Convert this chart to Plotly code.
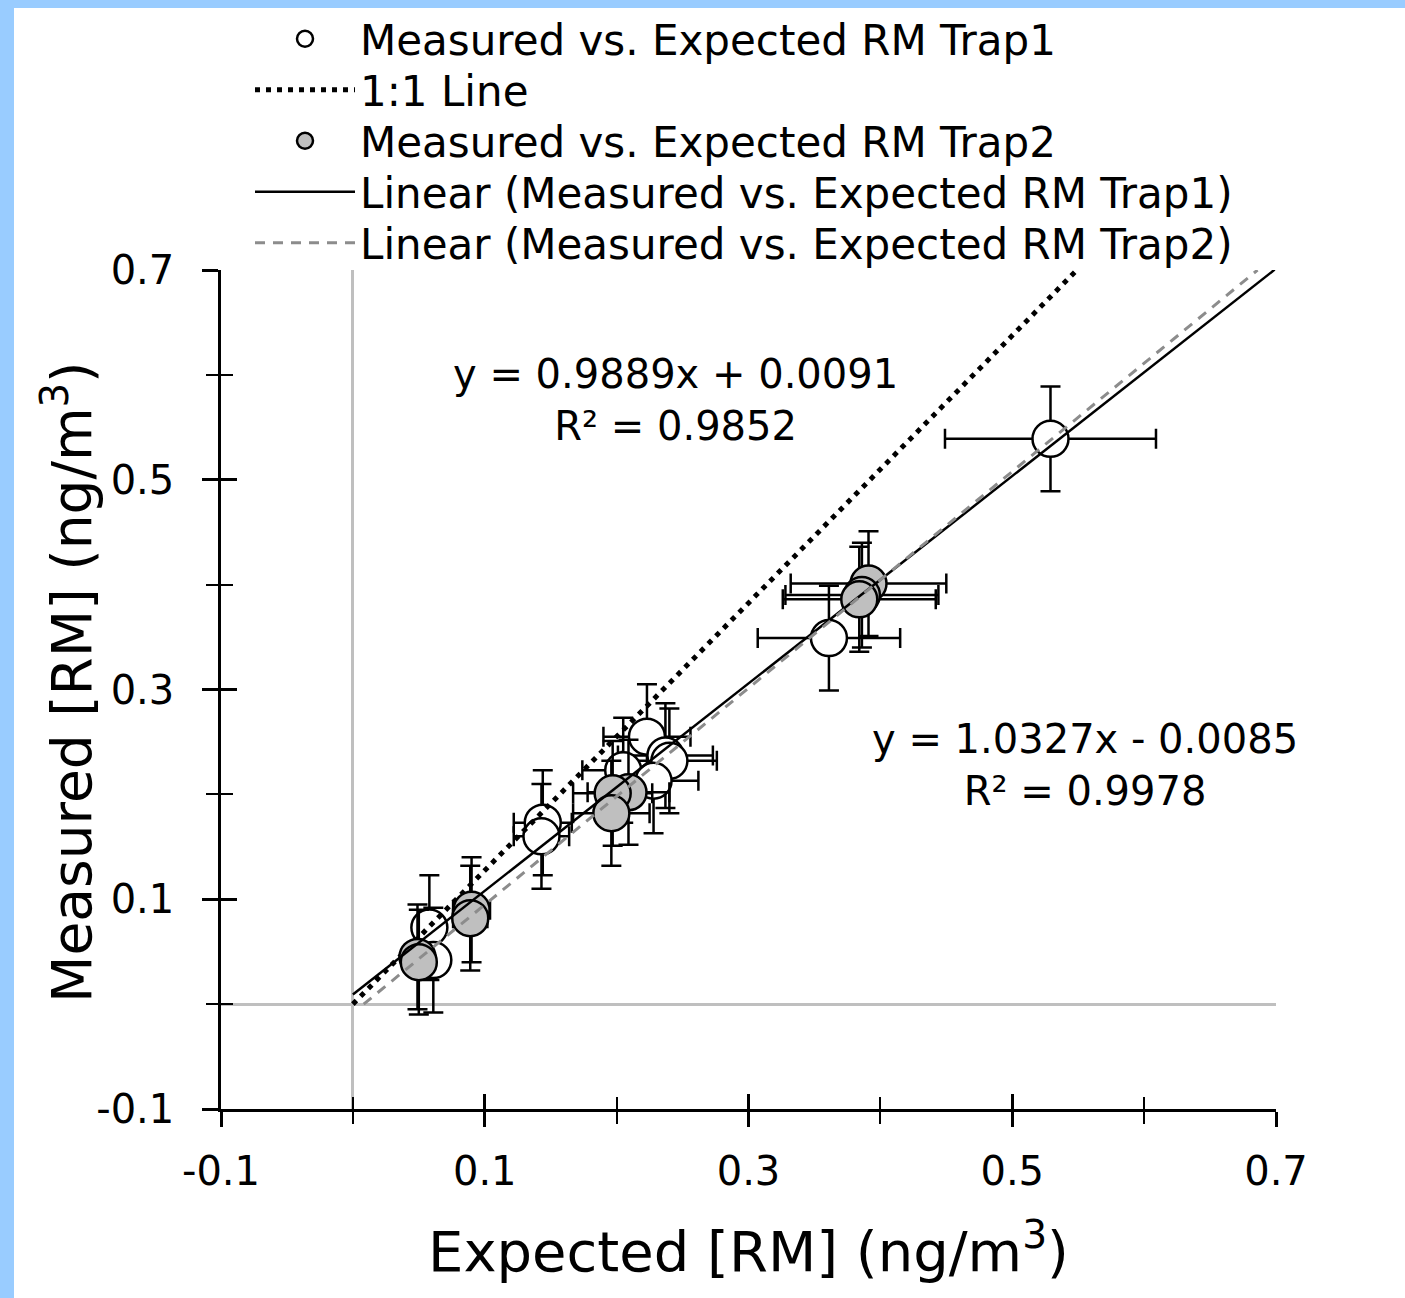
import plotly.graph_objects as go

# ---------------- data ----------------
trap1_x = [0.529, 0.361, 0.223, 0.237, 0.240, 0.205, 0.228, 0.144, 0.143, 0.058, 0.061]
trap1_y = [0.539, 0.349, 0.255, 0.237, 0.232, 0.223, 0.213, 0.173, 0.160, 0.073, 0.042]
trap1_xerr = [0.080, 0.054, 0.033, 0.036, 0.036, 0.031, 0.034, 0.022, 0.021, 0.009, 0.009]
trap1_yerr = [0.050, 0.050, 0.050, 0.050, 0.050, 0.050, 0.050, 0.050, 0.050, 0.050, 0.050]

trap2_x = [0.391, 0.386, 0.384, 0.209, 0.197, 0.196, 0.090, 0.089, 0.049, 0.050]
trap2_y = [0.401, 0.390, 0.386, 0.202, 0.201, 0.182, 0.090, 0.082, 0.045, 0.040]
trap2_xerr = [0.059, 0.058, 0.058, 0.031, 0.030, 0.029, 0.014, 0.013, 0.007, 0.008]
trap2_yerr = [0.050, 0.050, 0.050, 0.050, 0.050, 0.050, 0.050, 0.050, 0.050, 0.050]

# reference line as drawn in the picture
ref_line_x = [0.0, 0.549]
ref_line_y = [0.0, 0.700]

# fitted trend lines (from the equations printed on the chart)
fit1_slope, fit1_icpt = 0.9889, 0.0091
fit2_slope, fit2_icpt = 1.0327, -0.0085
fit1_x = [0.0, 0.699]
fit2_x = [0.0082, 0.686]
fit1_y = [fit1_slope * v + fit1_icpt for v in fit1_x]
fit2_y = [fit2_slope * v + fit2_icpt for v in fit2_x]

eq1_text = "y = 0.9889x + 0.0091<br>R² = 0.9852"
eq2_text = "y = 1.0327x - 0.0085<br>R² = 0.9978"

tick_vals = [-0.1, 0.1, 0.3, 0.5, 0.7]
tick_text = ["-0.1", "0.1", "0.3", "0.5", "0.7"]

series_names = [
    "Measured vs. Expected RM Trap1",
    "1:1 Line",
    "Measured vs. Expected RM Trap2",
    "Linear (Measured vs. Expected RM Trap1)",
    "Linear (Measured vs. Expected RM Trap2)",
]
x_title = "Expected [RM] (ng/m<sup>3</sup>)"
y_title = "Measured [RM] (ng/m<sup>3</sup>)"

# ---------------- figure ----------------
FONT = "DejaVu Sans"
W, H = 1405, 1298
ML, MR, MT, MB = 221, 129, 270, 189
PW, PH = W - ML - MR, H - MT - MB

err_style = dict(type="data", thickness=2.5, width=10, color="black")

fig = go.Figure()

fig.add_trace(go.Scatter(
    x=trap1_x, y=trap1_y, mode="markers", name=series_names[0], legend="legend",
    marker=dict(size=36, color="white", line=dict(color="black", width=2.5)),
    error_x=dict(array=trap1_xerr, **err_style),
    error_y=dict(array=trap1_yerr, **err_style),
))
fig.add_trace(go.Scatter(
    x=ref_line_x, y=ref_line_y, mode="lines", name=series_names[1], legend="legend2",
    line=dict(color="black", width=5, dash="5px,6px"),
))
fig.add_trace(go.Scatter(
    x=trap2_x, y=trap2_y, mode="markers", name=series_names[2], legend="legend3",
    marker=dict(size=36, color="#BFBFBF", line=dict(color="black", width=2.5)),
    error_x=dict(array=trap2_xerr, **err_style),
    error_y=dict(array=trap2_yerr, **err_style),
))
fig.add_trace(go.Scatter(
    x=fit1_x, y=fit1_y, mode="lines", name=series_names[3], legend="legend4",
    line=dict(color="black", width=2.5),
))
fig.add_trace(go.Scatter(
    x=fit2_x, y=fit2_y, mode="lines", name=series_names[4], legend="legend5",
    line=dict(color="#8C8C8C", width=3, dash="10px,8px"),
))
# empty trace to activate the overlay axes used for the inner half of crossing ticks
fig.add_trace(go.Scatter(x=[None], y=[None], xaxis="x2", yaxis="y2",
                         showlegend=False, hoverinfo="skip"))

tickfont = dict(family=FONT, size=40, color="black")

common_axis = dict(range=[-0.1, 0.7], tickmode="array", tickvals=tick_vals,
                   showgrid=False, tickcolor="black", tickwidth=2.5)

minor_out = dict(ticks="outside", ticklen=12, tickwidth=2, tickcolor="black",
                 tickmode="linear", tick0=-0.1, dtick=0.1)
minor_in = dict(ticks="inside", ticklen=12, tickwidth=2, tickcolor="black",
                tickmode="linear", tick0=-0.1, dtick=0.1)

layout_legends = {}
legend_keys = ["legend", "legend2", "legend3", "legend4", "legend5"]
legend_rows_px = [39, 90, 141, 192, 243]
for key, row in zip(legend_keys, legend_rows_px):
    layout_legends[key] = dict(
        x=(250 - ML) / PW, y=(H - MB - row) / PH, xanchor="left", yanchor="middle",
        font=dict(family=FONT, size=42, color="black"),
        itemwidth=100, bgcolor="rgba(0,0,0,0)", borderwidth=0,
    )

fig.update_layout(
    width=W, height=H,
    margin=dict(l=ML, r=MR, t=MT, b=MB, autoexpand=False),
    paper_bgcolor="white", plot_bgcolor="white",
    font=dict(family=FONT, color="black"),
    xaxis=dict(
        **common_axis, ticktext=tick_text, ticks="outside", ticklen=15,
        showline=True, linecolor="black", linewidth=2.5,
        zeroline=True, zerolinecolor="#BFBFBF", zerolinewidth=3,
        tickfont=tickfont, ticklabelstandoff=10, minor=minor_out,
        title=dict(text=x_title,
                   font=dict(family=FONT, size=56, color="black"), standoff=40),
    ),
    yaxis=dict(
        **common_axis, ticktext=tick_text, ticks="outside", ticklen=16,
        showline=True, linecolor="black", linewidth=2.5,
        zeroline=True, zerolinecolor="#BFBFBF", zerolinewidth=3,
        tickfont=tickfont, ticklabelstandoff=20, minor=minor_out,
    ),
    xaxis2=dict(
        **common_axis, overlaying="x", anchor="y2", side="bottom",
        ticks="inside", ticklen=15, showticklabels=False, showline=False,
        zeroline=False, minor=minor_in,
    ),
    yaxis2=dict(
        **common_axis, overlaying="y", anchor="x2", side="left",
        ticks="inside", ticklen=16, showticklabels=False, showline=False,
        zeroline=False, minor=minor_in,
    ),
    showlegend=True,
    **layout_legends,
)

# y-axis title placed as a rotated annotation (sits closer to the tick labels)
fig.add_annotation(x=(68 - ML) / PW, y=(H - MB - 682) / PH, xref="paper", yref="paper",
                   text=y_title, textangle=-90, showarrow=False,
                   xanchor="center", yanchor="middle",
                   font=dict(family=FONT, size=55, color="black"))

fig.add_annotation(x=0.245, y=0.576, xref="x", yref="y", text=eq1_text,
                   showarrow=False, font=dict(family=FONT, size=40, color="black"),
                   align="center")
fig.add_annotation(x=0.555, y=0.228, xref="x", yref="y", text=eq2_text,
                   showarrow=False, font=dict(family=FONT, size=40, color="black"),
                   align="center")

# light-blue frame strips (left and top edges of the picture)
blue = "#99CCFF"
fig.add_shape(type="rect", xref="paper", yref="paper", layer="above",
              x0=-ML / PW, x1=(14 - ML) / PW, y0=-MB / PH, y1=(H - MB) / PH,
              fillcolor=blue, line=dict(width=0))
fig.add_shape(type="rect", xref="paper", yref="paper", layer="above",
              x0=-ML / PW, x1=(W - ML) / PW, y0=(H - MB - 8) / PH, y1=(H - MB) / PH,
              fillcolor=blue, line=dict(width=0))

fig.write_html("out.html", config={"displayModeBar": False},
               post_script="document.body.style.margin='0px';")
